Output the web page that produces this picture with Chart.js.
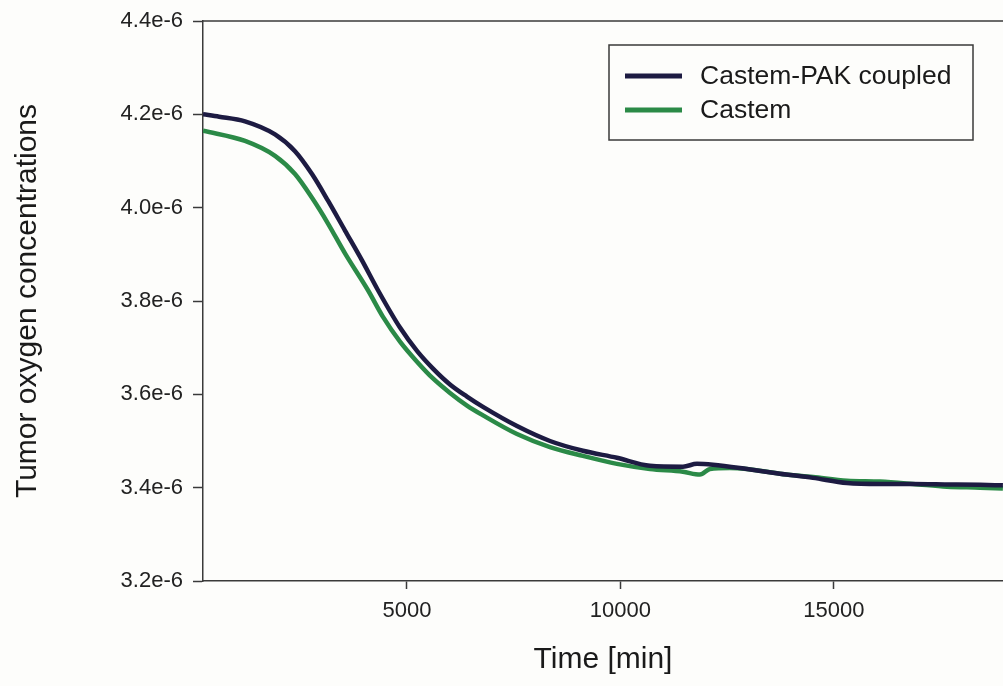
<!DOCTYPE html>
<html>
<head>
<meta charset="utf-8">
<script src="https://cdn.jsdelivr.net/npm/chart.js@4"></script>
<style>
  body { margin: 0; background: #fdfdfb; }
  .wrap { width: 1003px; height: 686px; position: relative; }
</style>
</head>
<body>
<div class="wrap"><canvas id="myChart"></canvas></div>
<script>
// values (time in min, concentration)
const coupledTime = [222, 600, 1206, 1909, 2377, 2775, 3150, 3548, 3946, 4321, 4836, 5234, 5609, 6007, 6405, 6780, 7576, 8349, 9122, 9918, 10691, 11464, 11792, 12167, 12963, 13736, 14509, 15305, 16078, 16851, 17647, 18420, 18958];
const coupledConc = [4.200e-6, 4.195e-6, 4.185e-6, 4.157e-6, 4.121e-6, 4.072e-6, 4.015e-6, 3.951e-6, 3.887e-6, 3.823e-6, 3.743e-6, 3.693e-6, 3.655e-6, 3.621e-6, 3.595e-6, 3.573e-6, 3.532e-6, 3.500e-6, 3.479e-6, 3.464e-6, 3.447e-6, 3.445e-6, 3.451e-6, 3.449e-6, 3.440e-6, 3.430e-6, 3.421e-6, 3.410e-6, 3.408e-6, 3.408e-6, 3.407e-6, 3.406e-6, 3.405e-6];

const castemTime = [222, 1206, 1909, 2377, 2775, 3150, 3548, 4087, 4438, 4836, 5234, 5609, 6007, 6405, 6780, 7576, 8349, 9122, 9918, 10691, 11464, 11862, 12096, 12565, 12963, 13736, 14509, 15305, 16078, 16851, 17647, 18420, 18958];
const castemConc = [4.165e-6, 4.143e-6, 4.111e-6, 4.072e-6, 4.021e-6, 3.966e-6, 3.902e-6, 3.823e-6, 3.766e-6, 3.713e-6, 3.670e-6, 3.634e-6, 3.603e-6, 3.576e-6, 3.555e-6, 3.515e-6, 3.487e-6, 3.468e-6, 3.451e-6, 3.440e-6, 3.434e-6, 3.428e-6, 3.440e-6, 3.442e-6, 3.440e-6, 3.430e-6, 3.423e-6, 3.415e-6, 3.413e-6, 3.408e-6, 3.402e-6, 3.400e-6, 3.398e-6];

const seriesNames = ["Castem-PAK coupled", "Castem"];

const xTickValues = [5000, 10000, 15000];
const xTickLabels = ["5000", "10000", "15000"];
const yTickValues = [3.2e-6, 3.4e-6, 3.6e-6, 3.8e-6, 4.0e-6, 4.2e-6, 4.4e-6];
const yTickLabels = ["3.2e-6", "3.4e-6", "3.6e-6", "3.8e-6", "4.0e-6", "4.2e-6", "4.4e-6"];

const FONT = "'Liberation Sans', Arial, sans-serif";
const axisColor = "#3a3a3a";

function toPoints(xs, ys) {
  return xs.map((x, i) => ({ x: x, y: ys[i] }));
}

// legend box inside the plot + top frame line
const boxLegend = {
  id: "boxLegend",
  afterDraw(chart) {
    const ctx = chart.ctx;
    const area = chart.chartArea;
    ctx.save();
    ctx.strokeStyle = axisColor;
    ctx.lineWidth = 1.5;
    ctx.beginPath();
    ctx.moveTo(area.left, area.top);
    ctx.lineTo(area.right, area.top);
    ctx.stroke();

    const bx = 609, by = 45, bw = 364, bh = 95;
    ctx.fillStyle = "#fdfdfb";
    ctx.fillRect(bx, by, bw, bh);
    ctx.lineWidth = 1.5;
    ctx.strokeRect(bx, by, bw, bh);

    ctx.font = "26.5px " + FONT;
    ctx.textBaseline = "middle";
    chart.data.datasets.forEach((ds, i) => {
      const y = by + 31 + i * 34;
      ctx.strokeStyle = ds.borderColor;
      ctx.lineWidth = 5;
      ctx.beginPath();
      ctx.moveTo(bx + 16, y);
      ctx.lineTo(bx + 73, y);
      ctx.stroke();
      ctx.fillStyle = "#1a1a1a";
      ctx.fillText(ds.label, bx + 91, y + 1);
    });
    ctx.restore();
  },
};

const ctx = document.getElementById("myChart").getContext("2d");

new Chart(ctx, {
  type: "line",
  data: {
    datasets: [
      {
        label: seriesNames[0],
        data: toPoints(coupledTime, coupledConc),
        borderColor: "#1d1b42",
        borderWidth: 4.5,
        pointRadius: 0,
        cubicInterpolationMode: "monotone",
      },
      {
        label: seriesNames[1],
        data: toPoints(castemTime, castemConc),
        borderColor: "#2b8a47",
        borderWidth: 4.5,
        pointRadius: 0,
        cubicInterpolationMode: "monotone",
      },
    ],
  },
  options: {
    responsive: true,
    maintainAspectRatio: false,
    animation: false,
    layout: { padding: { top: 19, right: 0, bottom: 0, left: 0 } },
    plugins: {
      legend: { display: false },
      tooltip: { enabled: false },
    },
    scales: {
      x: {
        type: "linear",
        min: 222,
        max: 18960,
        afterBuildTicks: (scale) => {
          scale.ticks = xTickValues.map((v) => ({ value: v }));
        },
        afterFit: (scale) => {
          scale.height = 105;
        },
        grid: {
          drawOnChartArea: false,
          drawTicks: true,
          tickLength: 8,
          tickColor: axisColor,
          tickWidth: 1.5,
        },
        border: { display: true, color: axisColor, width: 1.5 },
        ticks: {
          autoSkip: false,
          maxRotation: 0,
          padding: 9,
          color: "#222",
          font: { family: FONT, size: 22 },
          callback: (value, index) => xTickLabels[index],
        },
        title: {
          display: true,
          text: "Time [min]",
          color: "#1a1a1a",
          font: { family: FONT, size: 30 },
          padding: { top: 0, bottom: 8 },
        },
      },
      y: {
        min: 3.2e-6,
        max: 4.4e-6,
        afterBuildTicks: (scale) => {
          scale.ticks = yTickValues.map((v) => ({ value: v }));
        },
        afterFit: (scale) => {
          scale.width = 203;
        },
        grid: {
          drawOnChartArea: false,
          drawTicks: true,
          tickLength: 10,
          tickColor: axisColor,
          tickWidth: 1.5,
        },
        border: { display: true, color: axisColor, width: 1.5 },
        ticks: {
          autoSkip: false,
          padding: 10,
          color: "#222",
          font: { family: FONT, size: 22, lineHeight: 1 },
          callback: (value, index) => yTickLabels[index],
        },
        title: {
          display: true,
          text: "Tumor oxygen concentrations",
          color: "#1a1a1a",
          font: { family: FONT, size: 30 },
          padding: { top: 10, bottom: 0 },
        },
      },
    },
  },
  plugins: [boxLegend],
});
</script>
</body>
</html>
